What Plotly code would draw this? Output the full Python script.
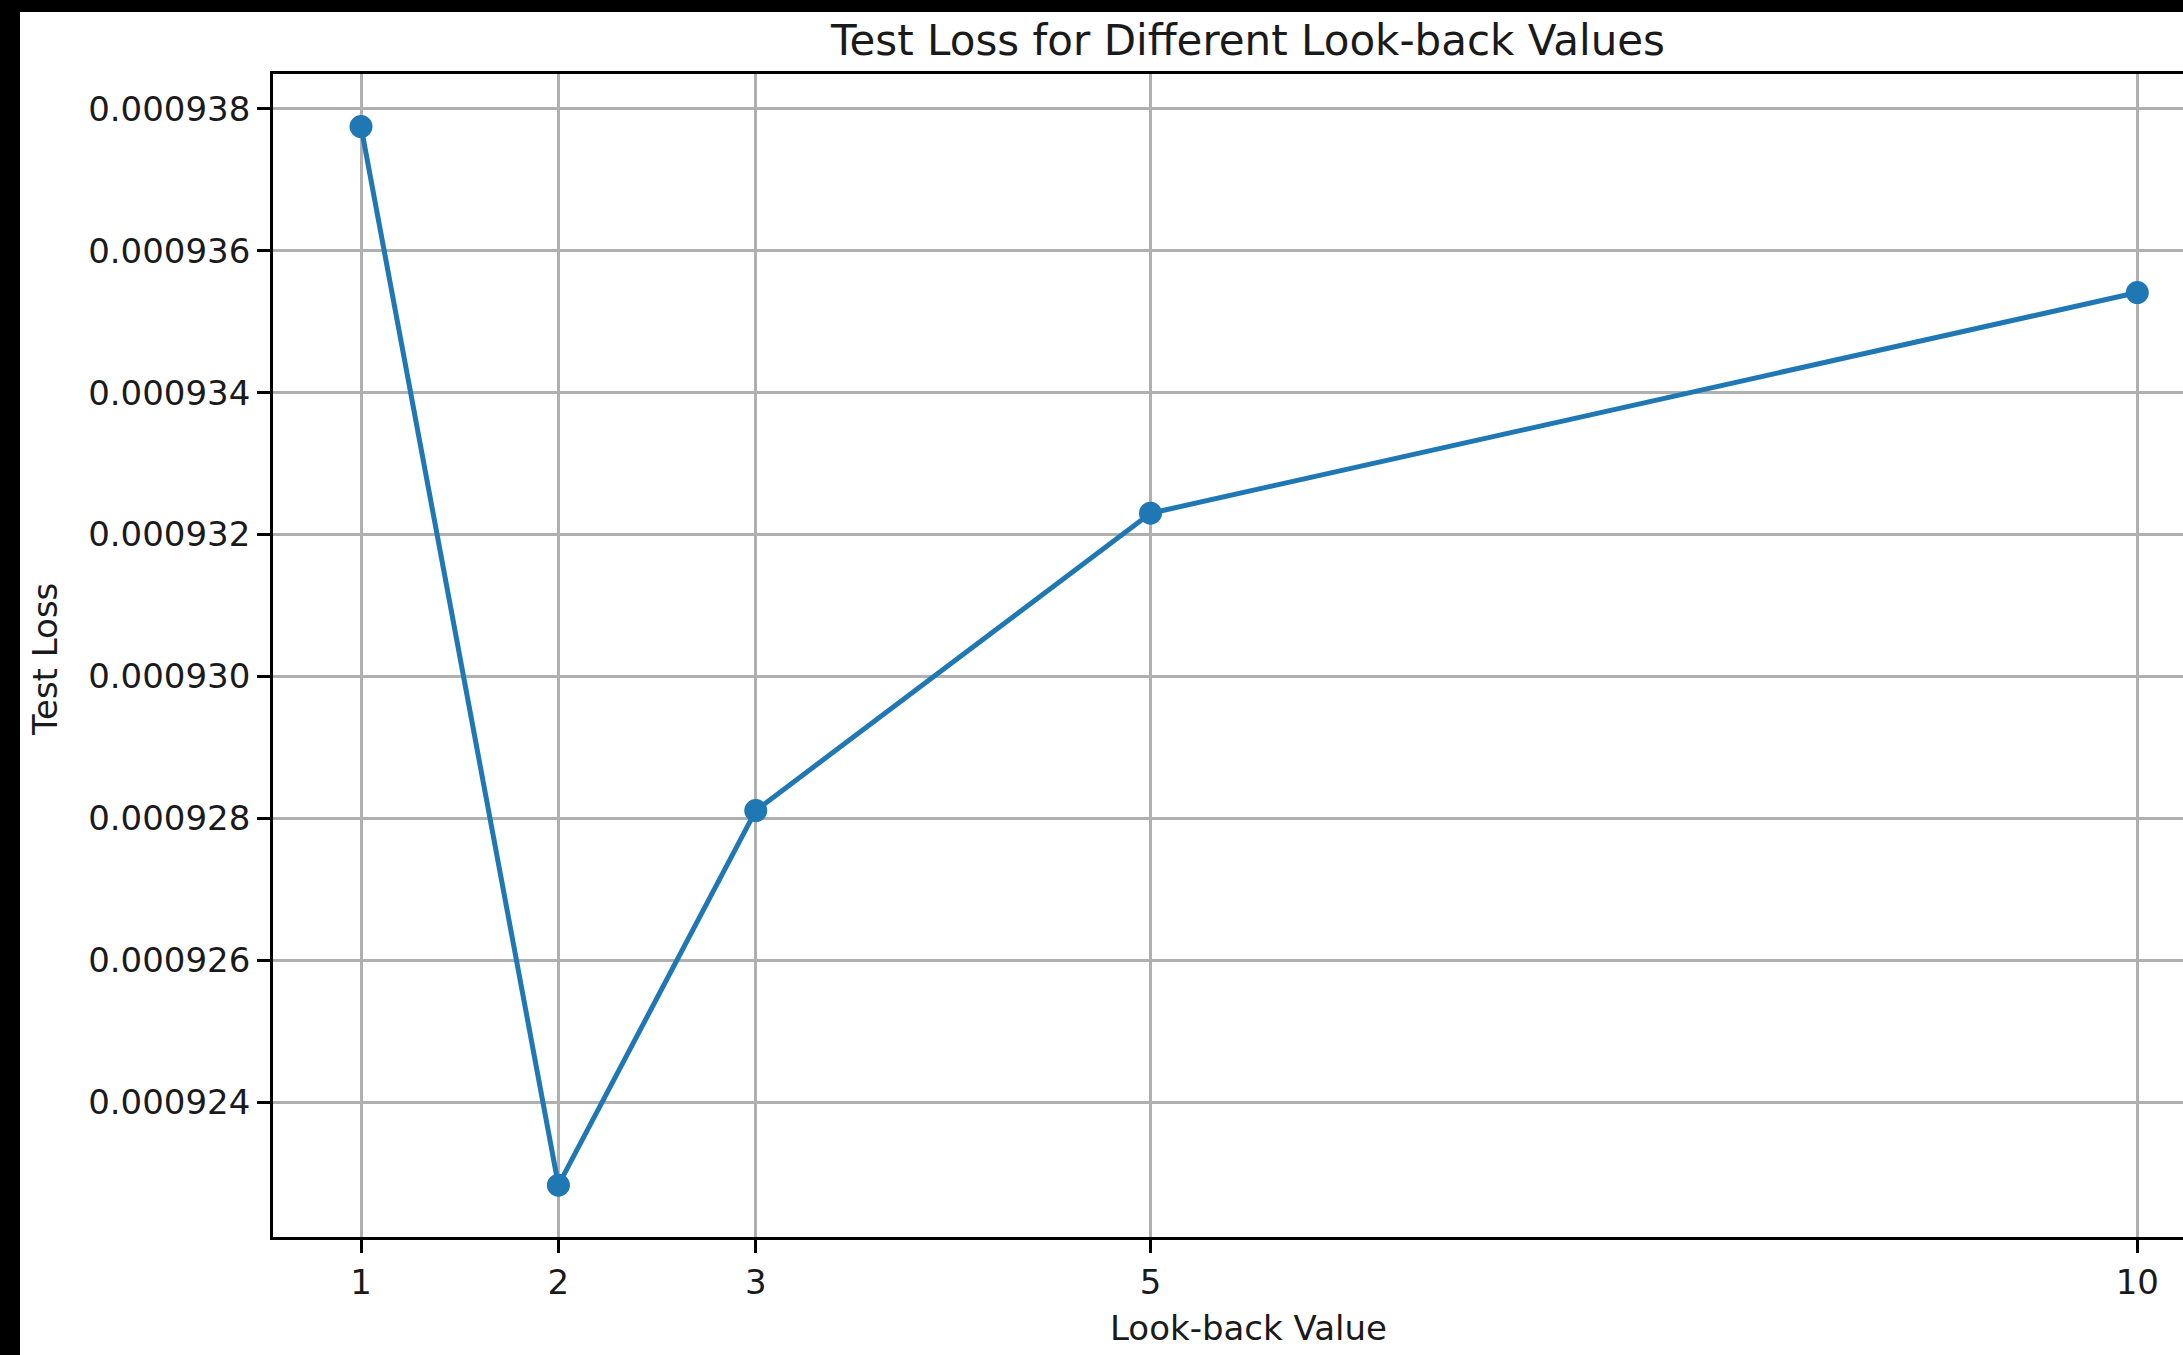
import plotly.graph_objects as go

# Test loss measured for each look-back window length
look_back = [1, 2, 3, 5, 10]
test_loss = [0.00093775, 0.00092283, 0.00092811, 0.00093230, 0.00093541]

x_ticks = [1, 2, 3, 5, 10]
y_ticks = [0.000924, 0.000926, 0.000928, 0.000930, 0.000932, 0.000934, 0.000936, 0.000938]

W, H = 2183, 1355
M_L, M_R, M_T, M_B = 273, 0, 74, 118
PW, PH = W - M_L - M_R, H - M_T - M_B

FONT = "DejaVu Sans"
BLUE = "#1f77b4"
GRID = "#b0b0b0"
TEXT = "#1a1a1a"


def px_x(p):
    """Pixel column -> paper x."""
    return (p - M_L) / PW


def px_y(p):
    """Pixel row (from top) -> paper y."""
    return (H - M_B - p) / PH


fig = go.Figure()
fig.add_trace(go.Scatter(
    x=look_back, y=test_loss, mode="lines+markers",
    line=dict(color=BLUE, width=5),
    marker=dict(color=BLUE, size=23),
    showlegend=False,
))

axis_common = dict(
    showline=True, linecolor="black", linewidth=2.6,
    showgrid=True, gridcolor=GRID, gridwidth=2.6,
    ticks="outside", ticklen=13, tickwidth=2.6, tickcolor="black",
    tickfont=dict(family=FONT, size=34, color=TEXT),
    zeroline=False,
)

fig.update_xaxes(
    range=[0.554, 10.2315], tickvals=x_ticks, ticktext=[str(v) for v in x_ticks],
    mirror=True, **axis_common,
)
fig.update_yaxes(
    range=[0.0009221, 0.00093849], tickvals=y_ticks,
    ticktext=[f"{v:.6f}" for v in y_ticks],
    **axis_common,
)

fig.update_layout(
    width=W, height=H,
    margin=dict(l=M_L, r=M_R, t=M_T, b=M_B, pad=0),
    paper_bgcolor="white", plot_bgcolor="white",
    title=dict(
        text="Test Loss for Different Look-back Values",
        font=dict(family=FONT, size=42, color=TEXT),
        x=1248 / W, xanchor="center", xref="container",
        y=1 - 40 / H, yanchor="middle", yref="container",
    ),
    annotations=[
        dict(text="Look-back Value", xref="paper", yref="paper",
             x=px_x(1248), y=px_y(1328), xanchor="center", yanchor="middle",
             showarrow=False, font=dict(family=FONT, size=34, color=TEXT)),
        dict(text="Test Loss", xref="paper", yref="paper", textangle=-90,
             x=px_x(45), y=px_y(660), xanchor="center", yanchor="middle",
             showarrow=False, font=dict(family=FONT, size=34, color=TEXT)),
    ],
    shapes=[
        # dark frame strips along the top and left edges
        dict(type="rect", xref="paper", yref="paper", layer="above",
             x0=px_x(0), x1=px_x(W), y0=px_y(0), y1=px_y(12),
             fillcolor="black", line=dict(width=0)),
        dict(type="rect", xref="paper", yref="paper", layer="above",
             x0=px_x(0), x1=px_x(20), y0=px_y(0), y1=px_y(H),
             fillcolor="black", line=dict(width=0)),
    ],
)

fig.write_html("out.html")
